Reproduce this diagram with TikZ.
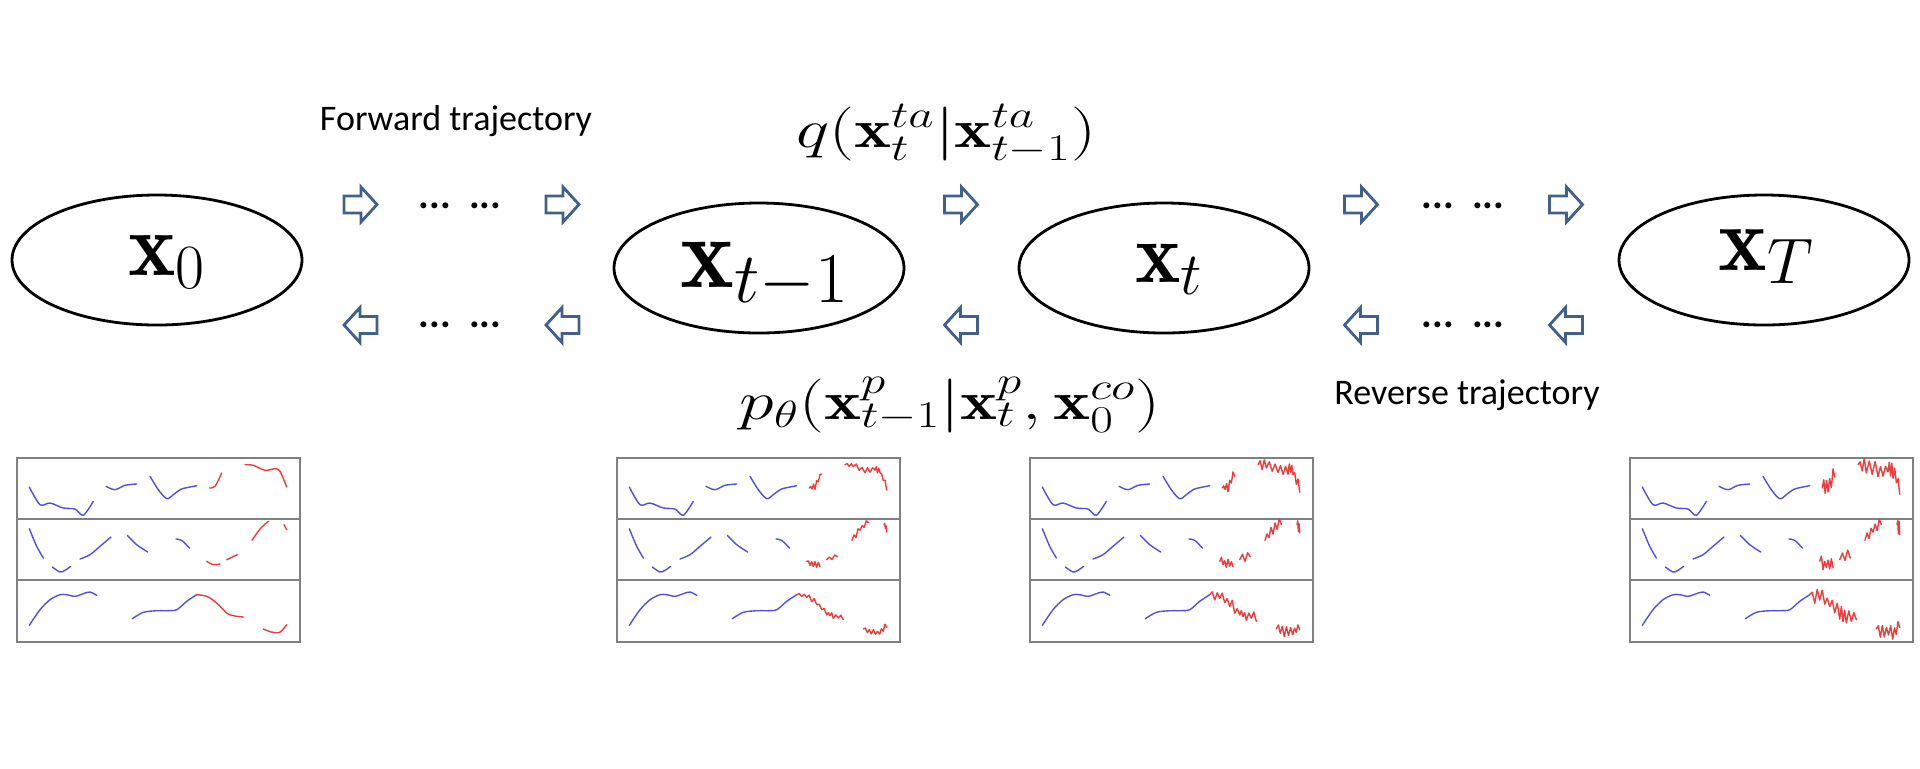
\RequirePackage{fix-cm}
\documentclass[tikz,border=0pt]{standalone}
\usepackage{fontspec}
\newfontfamily\calibri{Carlito}
\usetikzlibrary{shapes.geometric}
\definecolor{arrowblue}{RGB}{66,96,140}
\definecolor{curveblue}{RGB}{80,80,225}
\definecolor{curvered}{RGB}{238,60,60}
\definecolor{boxgray}{RGB}{128,128,128}
\tikzset{
  state/.style={ellipse, draw=black, line width=1.4pt, minimum width=145pt, minimum height=65pt, inner sep=0pt},
  statelabel/.style={anchor=base west, inner sep=0pt},
  formula/.style={anchor=base, inner sep=0pt, font=\fontsize{27}{32}\selectfont},
  traj/.style={anchor=base, inner sep=0pt, font=\calibri\fontsize{18}{22}\selectfont},
  dotsnode/.style={inner sep=0pt, font=\calibri\bfseries\fontsize{20}{24}\selectfont},
  blockarrow/.style={draw=arrowblue, line width=1.4pt, line join=miter, fill=white},
  rarrow/.pic={\draw[blockarrow] (-16.5,-8.5) -- (0.5,-8.5) -- (0.5,-17.5) -- (16.5,0) -- (0.5,17.5) -- (0.5,8.5) -- (-16.5,8.5) -- cycle;},
  larrow/.pic={\draw[blockarrow] (16.5,-8.5) -- (-0.5,-8.5) -- (-0.5,-17.5) -- (-16.5,0) -- (-0.5,17.5) -- (-0.5,8.5) -- (16.5,8.5) -- cycle;},
  bc/.style={curveblue, line width=0.7pt, line cap=round, line join=round},
  rc/.style={curvered, line width=0.7pt, line cap=round, line join=round},
  frame/.style={draw=boxgray, line width=0.8pt},
}
\newcommand\bluecurves{%
  \draw[bc] plot[smooth] coordinates {(13.3,30) (24,47.7) (34,46) (47.3,51) (59,52) (67.3,58.3) (77.3,44.3)};
  \draw[bc] plot[smooth] coordinates {(90,29.3) (99,32.7) (109,28.3) (120.7,27)};
  \draw[bc] plot[smooth] coordinates {(134,19.3) (142.3,32.7) (150.7,41.7) (157.3,37.7) (165.7,32) (180.7,28.7)};
  \draw[bc] plot[smooth] coordinates {(13.3,71.7) (20.7,89.3) (27.3,101)};
  \draw[bc] plot[smooth] coordinates {(36.3,110) (44,115) (49,113.3) (54.7,109.3)};
  \draw[bc] plot[smooth] coordinates {(64,102) (74,97.7) (84,89.3) (95,80)};
  \draw[bc] plot[smooth] coordinates {(111.3,78.3) (120.7,87.7) (131.7,95)};
  \draw[bc] plot[smooth] coordinates {(160,82) (165.7,83.3) (173.3,91)};
  \draw[bc] plot[smooth] coordinates {(13.3,168.3) (24,152.7) (34,142.7) (44,137.7) (50.7,137.7) (59,139.3) (67.3,136.7) (74,135) (80.7,138.3)};
  \draw[bc] plot[smooth] coordinates {(116.3,161.7) (127.3,155.3) (140.7,153.7) (150.7,153.7) (160.7,152.7) (170.7,144.3) (180.7,137.7)};
}
\newcommand\cleanred{%
  \draw[rc] plot[smooth] coordinates {(193.3,31) (199,29.3) (205.7,16)};
  \draw[rc] plot[smooth] coordinates {(229,7.7) (237.3,8.3) (249,13.3) (259,11.7) (264,14.3) (270.7,30)};
  \draw[rc] plot[smooth] coordinates {(190.7,104.3) (197.3,107.7) (204,107)};
  \draw[rc] plot[smooth] coordinates {(210.7,102.7) (221.3,97.7)};
  \draw[rc] plot[smooth] coordinates {(236,83.3) (244,72) (252.3,64.3)};
  \draw[rc] plot[smooth] coordinates {(268,67.7) (270.7,72.7)};
  \draw[rc] plot[smooth] coordinates {(180.7,137.7) (190.7,139.3) (200.7,146) (210.7,156) (217.3,158.7) (227.3,160)};
  \draw[rc] plot[smooth] coordinates {(247.3,172) (255.3,175) (263.7,175.3) (270.7,167.7)};
}
% #1 amplitude (px), #2 start point, #3 list of xa/ya/xb/yb pieces
\newcommand\noisyseg[3]{%
  \draw[rc] (#2) \foreach \xa/\ya/\xb/\yb in {#3} {
    \foreach \k in {1,2,3,4} {
      -- ({\xa+(\xb-\xa)*\k/4},{\ya+(\yb-\ya)*\k/4+#1*(0.3+0.7*rnd)*(1-2*mod(\k,2))})
    }
  };
}
\newcommand\noisyred[1]{%
  \noisyseg{#1}{193.3,31}{193.3/31/199/29.3, 199/29.3/205.7/16}
  \noisyseg{#1}{229,7.7}{229/7.7/237.3/8.3, 237.3/8.3/249/13.3, 249/13.3/259/11.7, 259/11.7/264/14.3, 264/14.3/270.7/30}
  \noisyseg{#1}{190.7,104.3}{190.7/104.3/197.3/107.7, 197.3/107.7/204/107}
  \noisyseg{#1}{210.7,102.7}{210.7/102.7/221.3/97.7}
  \noisyseg{#1}{236,83.3}{236/83.3/244/72, 244/72/252.3/64.3}
  \noisyseg{#1}{268,67.7}{268/67.7/270.7/72.7}
  \noisyseg{#1}{180.7,137.7}{180.7/137.7/190.7/139.3, 190.7/139.3/200.7/146, 200.7/146/210.7/156, 210.7/156/217.3/158.7, 217.3/158.7/227.3/160}
  \noisyseg{#1}{247.3,172}{247.3/172/255.3/175, 255.3/175/263.7/175.3, 263.7/175.3/270.7/167.7}
}
\newcommand\plotpanel[3]{%
  \begin{scope}[shift={(#2,457)}]
    \node[frame, anchor=north west, inner sep=0pt, minimum width=141.5pt, minimum height=92pt] (#1) at (0,0) {};
    \draw[frame] (0,62) -- (283,62);
    \draw[frame] (0,123) -- (283,123);
    \bluecurves
    #3
  \end{scope}%
}
\begin{document}
\begin{tikzpicture}[x=0.5pt,y=-0.5pt]
\pgfmathsetseed{7}
\useasboundingbox (0,0) rectangle (1920,768);
% states
\node[state] (e0) at (157,260) {};
\node[state] (e1) at (759,268) {};
\node[state] (e2) at (1164,268) {};
\node[state] (e3) at (1764,260) {};
\node[statelabel, font=\fontsize{45}{50}\selectfont] (l0) at (128,275) {$\mathbf{x}_0$};
\node[statelabel, font=\fontsize{51}{56}\selectfont] (l1) at (680,287) {$\mathbf{x}_{t-1}$};
\node[statelabel, font=\fontsize{43}{48}\selectfont] (l2) at (1135,282) {$\mathbf{x}_t$};
\node[statelabel, font=\fontsize{46}{51}\selectfont] (l3) at (1718,270) {$\mathbf{x}_T$};
% formulas and captions
\node[formula] (q) at (946,147) {\scalebox{1.3}[1]{$q(\mathbf{x}_t^{ta}|\mathbf{x}_{t-1}^{ta})$}};
\node[formula] (p) at (950,419) {\scalebox{1.3}[1]{$p_\theta(\mathbf{x}_{t-1}^{p}|\mathbf{x}_t^{p},\mathbf{x}_0^{co})$}};
\node[traj] (fw) at (456,130) {Forward trajectory};
\node[traj] (rv) at (1467,404) {Reverse trajectory};
% block arrows
\foreach \ax in {360.5,562.5,961,1361,1566}{
  \path (\ax,204.5) pic {rarrow};
  \path (\ax,325) pic {larrow};
}
% dots
\node[dotsnode] (d1) at (460,206) {...\ \ ...};
\node[dotsnode] (d2) at (1463,206) {...\ \ ...};
\node[dotsnode] (d3) at (460,325) {...\ \ ...};
\node[dotsnode] (d4) at (1463,325) {...\ \ ...};
% plot panels
\plotpanel{b0}{16}{\cleanred}
\plotpanel{b1}{616}{\noisyred{3}}
\plotpanel{b2}{1029}{\noisyred{5.5}}
\plotpanel{b3}{1629}{\noisyred{8}}
\end{tikzpicture}
\end{document}
